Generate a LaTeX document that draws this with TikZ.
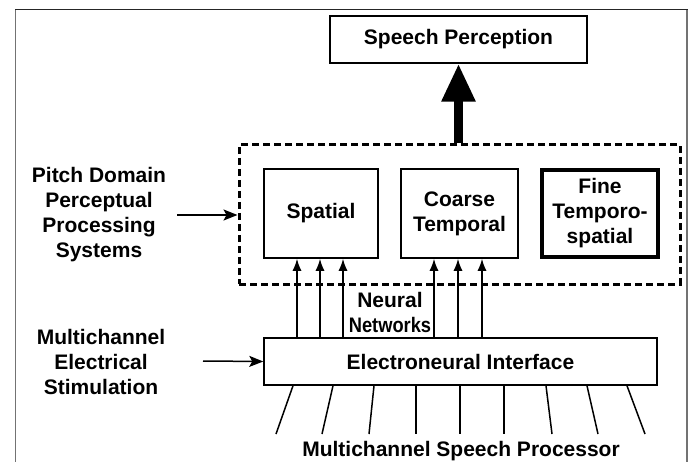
\documentclass[tikz,border=0pt]{standalone}
\usepackage{fontspec}
\setmainfont{Liberation Sans}
\usetikzlibrary{arrows.meta}
\begin{document}
\begin{tikzpicture}[x=1pt,y=-1pt,
  font=\fontsize{21}{25}\selectfont\bfseries,
  box/.style={draw, line width=1.5pt, inner sep=0pt, align=center},
  lbl/.style={align=center, inner sep=0pt},
  arr/.style={-{Latex[length=12pt,width=9pt]}, line width=1.5pt},
  sidearr/.style={-{Stealth[length=14pt,width=11pt,inset=3pt]}, line width=1.5pt},
  wire/.style={line width=1.5pt}]
\useasboundingbox (0,0) rectangle (690,462);
% frame
\draw[line width=1.2pt, black!55] (15.5,462) -- (15.5,9.5);
\draw[line width=1.2pt, black!55] (687,9.5) -- (687,462);
\draw[line width=1.5pt, black!85] (15,9.5) -- (687.6,9.5);
% nodes
\node[box, minimum width=257pt, minimum height=47pt] (sp) at (458.5,39.5) {Speech Perception};
\node[draw, line width=3pt, dash pattern=on 7pt off 4pt, minimum width=441pt, minimum height=139pt, inner sep=0pt] (pd) at (459.5,214.5) {};
\node[box, minimum width=114pt, minimum height=89pt] (spa) at (321,213.5) {Spatial};
\node[box, minimum width=117pt, minimum height=89pt] (coa) at (459.5,213.5) {Coarse\\Temporal};
\node[box, line width=3.5pt, minimum width=116pt, minimum height=87pt] (fin) at (600,213.5) {Fine\\Temporo-\\spatial};
\node[box, minimum width=393pt, minimum height=47pt] (ei) at (460.5,361.5) {Electroneural Interface};
\node[lbl] (pitch) at (99,214.5) {Pitch Domain\\Perceptual\\Processing\\Systems};
\node[lbl] (mc) at (101,362) {Multichannel\\Electrical\\Stimulation};
\node[lbl] (nn) at (390,312) {Neural\\\scalebox{0.87}[1]{Networks}};
\node[lbl] (msp) at (461,451) {Multichannel Speech Processor};
% thick arrow
\draw[line width=9pt, -{Triangle[length=38pt,width=32pt]}] (pd.north -| sp.south) -- (sp.south);
% side arrows
\coordinate (pa) at (177,215);
\coordinate (ma) at (203,361);
\draw[sidearr] (pa) -- (pa -| pd.west);
\draw[sidearr] (ma) -- (ei.west);
% upward arrows
\foreach \x [count=\i] in {297,320,343} {
  \coordinate (s\i) at (\x,300);
  \draw[arr] (ei.north -| s\i) -- (spa.south -| s\i);
}
\foreach \x [count=\i] in {434,458,482} {
  \coordinate (c\i) at (\x,300);
  \draw[arr] (ei.north -| c\i) -- (coa.south -| c\i);
}
% wires below interface
\foreach \a/\b [count=\i] in {293/276,333/322,374/369,416/416,460/460,504/504,546/552,587/598,627/645} {
  \coordinate (t\i) at (\a,385);
  \coordinate (b\i) at (\b,434);
  \draw[wire] (ei.south -| t\i) -- (b\i);
}
\end{tikzpicture}
\end{document}
